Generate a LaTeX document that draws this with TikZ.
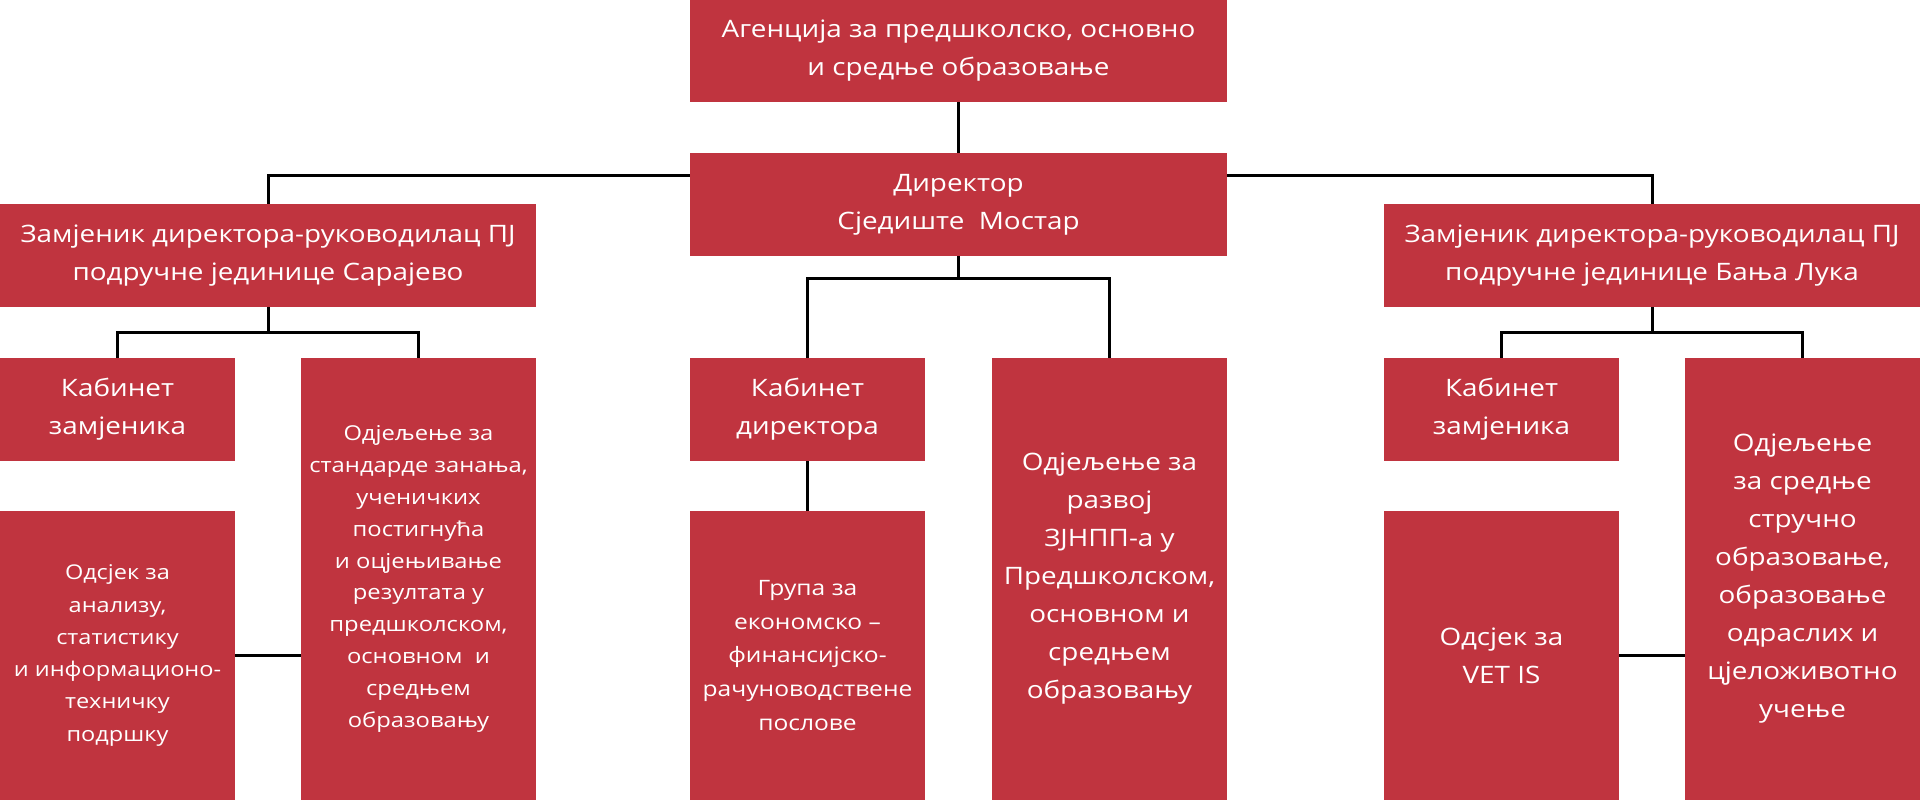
\documentclass[tikz,border=0pt]{standalone}
\usepackage{fontspec}
\setmainfont[FakeStretch=1.16]{Open Sans}
\usetikzlibrary{backgrounds,calc}
\definecolor{boxred}{RGB}{192,52,63}
\tikzset{
  orgbox/.style={fill=boxred, text=white, inner sep=0pt, align=center, font=\fontsize{24}{38}\selectfont},
  smallA/.style={font=\fontsize{20.5}{31.8}\selectfont},
  smallB/.style={font=\fontsize{20.3}{32.3}\selectfont},
  smallC/.style={font=\fontsize{21.2}{33.7}\selectfont},
  conn/.style={draw=black, line width=3pt, line join=miter}
}
\begin{document}
\begin{tikzpicture}[x=1pt,y=-1pt]
\useasboundingbox (0,0) rectangle (1920,800);
\node[orgbox, minimum width=537, minimum height=102] (top) at (958.5,51) {Агенција за предшколско, основно\\и средње образовање};
\node[orgbox, minimum width=537, minimum height=103] (dir) at (958.5,204.5) {Директор\\Сједиште\ \ Мостар};
\node[orgbox, minimum width=536, minimum height=103] (sar) at (268,255.5) {Замјеник директора-руководилац ПЈ\\подручне јединице Сарајево};
\node[orgbox, minimum width=536, minimum height=103] (bl) at (1652,255.5) {Замјеник директора-руководилац ПЈ\\подручне јединице Бања Лука};
\node[orgbox, minimum width=235, minimum height=103] (kz1) at (117.5,409.5) {Кабинет\\замјеника};
\node[orgbox, smallA, minimum width=235, minimum height=442] (od1) at (418.5,579) {Одјељење за\\стандарде занања,\\ученичких\\постигнућа\\и оцјењивање\\резултата у\\предшколском,\\основном\ \ и\\средњем\\образовању};
\node[orgbox, smallB, minimum width=235, minimum height=289] (os1) at (117.5,655.5) {Одсјек за\\анализу,\\статистику\\и информационо-\\техничку\\подршку};
\node[orgbox, minimum width=235, minimum height=103] (kd) at (807.5,409.5) {Кабинет\\директора};
\node[orgbox, smallC, minimum width=235, minimum height=289] (gr) at (807.5,655.5) {Група за\\економско –\\финансијско-\\рачуноводствене\\послове};
\node[orgbox, minimum width=235, minimum height=442] (od2) at (1109.5,579) {Одјељење за\\развој\\ЗЈНПП-а у\\Предшколском,\\основном и\\средњем\\образовању};
\node[orgbox, minimum width=235, minimum height=103] (kz3) at (1501.5,409.5) {Кабинет\\замјеника};
\node[orgbox, minimum width=235, minimum height=289] (os3) at (1501.5,655.5) {Одсјек за\\VET IS};
\node[orgbox, minimum width=235, minimum height=442] (od3) at (1802.5,579) {Одјељење\\за средње\\стручно\\образовање,\\образовање\\одраслих и\\цјеложивотно\\учење};
\coordinate (jtop) at (0,175);
\coordinate (jsar) at ($(sar.south)+(0,25)$);
\coordinate (jdir) at ($(dir.south)+(0,22)$);
\coordinate (jbl) at ($(bl.south)+(0,25)$);
\begin{pgfonlayer}{background}
\fill[white] (0,0) rectangle (1920,800);
\draw[conn] (top.south) -- (dir.north);
\draw[conn] (sar.north) -- (sar.north |- jtop) -| (bl.north);
\draw[conn] (dir.south) -- (jdir);
\draw[conn] (kd.north) |- (jdir) -| (od2.north);
\draw[conn] (sar.south) -- (jsar);
\draw[conn] (kz1.north) |- (jsar) -| (od1.north);
\draw[conn] (bl.south) -- (jbl);
\draw[conn] (kz3.north) |- (jbl) -| (od3.north);
\draw[conn] (kd.south) -- (gr.north);
\draw[conn] (os1.east) -- (os1.east -| od1.west);
\draw[conn] (os3.east) -- (os3.east -| od3.west);
\end{pgfonlayer}
\end{tikzpicture}
\end{document}
